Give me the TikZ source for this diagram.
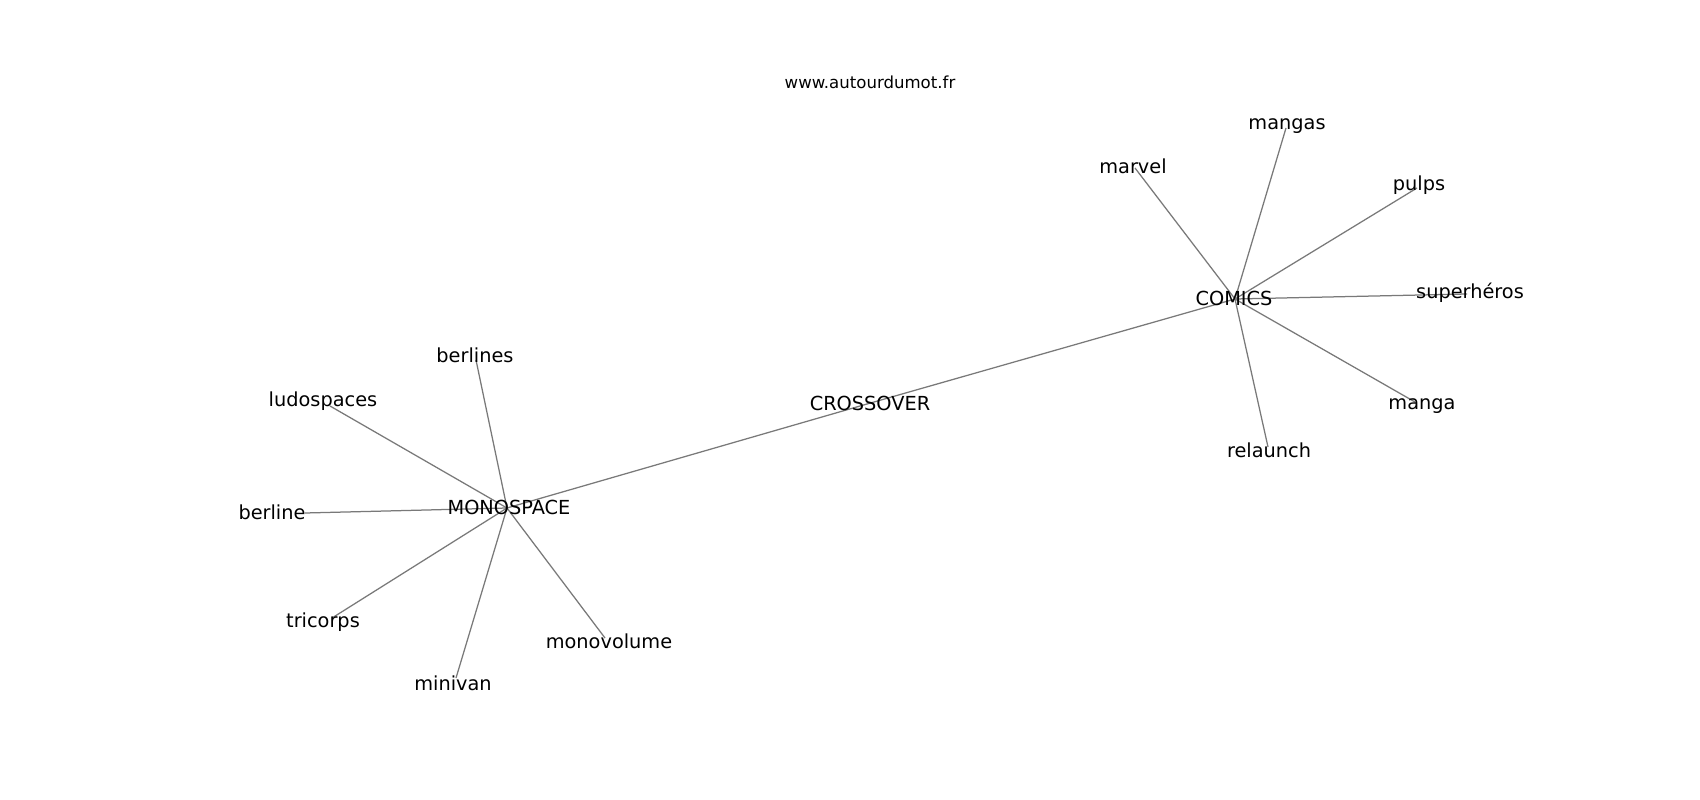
\documentclass[tikz,border=0pt]{standalone}
\usepackage{fontspec}
\setmainfont{DejaVu Sans}
\usetikzlibrary{calc}
\tikzset{
   line/.style  = {-, line width=0.75pt, color=gray!95!black, },
   word/.style  = {inner sep=0pt, font=\fontsize{11.6}{13.5}\selectfont, },
   title/.style = {inner sep=0pt, font=\fontsize{9.95}{12}\selectfont, },
}

\begin{document}
\begin{tikzpicture}[x=0.6pt,y=-0.6pt]

      \useasboundingbox[fill=white] (0,0) rectangle (1700,800);

      % graph vertices
      \coordinate (monospace)  at (507,508);
      \coordinate (crossover)  at (867,404);
      \coordinate (comics)     at (1235,299);
      \coordinate (berlines)   at (476,360);
      \coordinate (ludospaces) at (330,406);
      \coordinate (berline)    at (305,513);
      \coordinate (tricorps)   at (332,618);
      \coordinate (minivan)    at (456,678);
      \coordinate (monovolume) at (605,638);
      \coordinate (marvel)     at (1135,168);
      \coordinate (mangas)     at (1286,128);
      \coordinate (pulps)      at (1417,188);
      \coordinate (superheros) at (1467,294);
      \coordinate (manga)      at (1415,402);
      \coordinate (relaunch)   at (1268,447);

      \draw[line] (monospace) -- (crossover);
      \draw[line] (crossover) -- (comics);
      \draw[line] (monospace) -- (berlines);
      \draw[line] (monospace) -- (ludospaces);
      \draw[line] (monospace) -- (berline);
      \draw[line] (monospace) -- (tricorps);
      \draw[line] (monospace) -- (minivan);
      \draw[line] (monospace) -- (monovolume);
      \draw[line] (comics)    -- (marvel);
      \draw[line] (comics)    -- (mangas);
      \draw[line] (comics)    -- (pulps);
      \draw[line] (comics)    -- (superheros);
      \draw[line] (comics)    -- (manga);
      \draw[line] (comics)    -- (relaunch);

      % labels
      \node[title] (site)          at (870,82)   {www.autourdumot.fr};
      \node[word]  (monospacetxt)  at (509,507)  {MONOSPACE};
      \node[word]  (crossovertxt)  at (870,403)  {CROSSOVER};
      \node[word]  (comicstxt)     at (1234,298) {COMICS};
      \node[word]  (berlinestxt)   at (475,355)  {berlines};
      \node[word]  (ludospacestxt) at (323,401)  {ludospaces};
      \node[word]  (berlinetxt)    at (272,512)  {berline};
      \node[word]  (tricorpstxt)   at (323,622)  {tricorps};
      \node[word]  (minivantxt)    at (453,683)  {minivan};
      \node[word]  (monovolumetxt) at (609,641)  {monovolume};
      \node[word]  (marveltxt)     at (1133,166) {marvel};
      \node[word]  (mangastxt)     at (1287,126) {mangas};
      \node[word]  (pulpstxt)      at (1419,185) {pulps};
      \node[word]  (superherostxt) at (1470,293) {superhéros};
      \node[word]  (mangatxt)      at (1422,406) {manga};
      \node[word]  (relaunchtxt)   at (1269,450) {relaunch};

\end{tikzpicture}
\end{document}
